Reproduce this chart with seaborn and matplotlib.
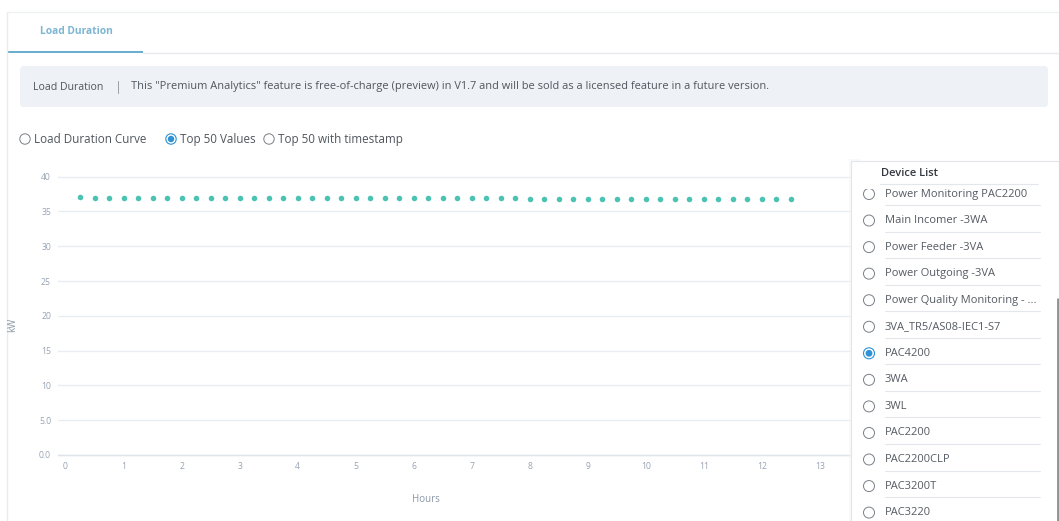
import matplotlib
matplotlib.use("Agg")
import matplotlib.pyplot as plt
import seaborn as sns
import pandas as pd
from matplotlib.patches import Rectangle, Circle, FancyBboxPatch

# Top 50 Werte (15-Minuten-Raster)
hours = [0.25, 0.5, 0.75, 1.0, 1.25, 1.5, 1.75, 2.0, 2.25, 2.5,
         2.75, 3.0, 3.25, 3.5, 3.75, 4.0, 4.25, 4.5, 4.75, 5.0,
         5.25, 5.5, 5.75, 6.0, 6.25, 6.5, 6.75, 7.0, 7.25, 7.5,
         7.75, 8.0, 8.25, 8.5, 8.75, 9.0, 9.25, 9.5, 9.75, 10.0,
         10.25, 10.5, 10.75, 11.0, 11.25, 11.5, 11.75, 12.0, 12.25, 12.5]
kw = [37.02, 37.01, 37.00, 37.00, 36.99, 36.99, 36.98, 36.98, 36.97, 36.97,
      36.96, 36.96, 36.95, 36.95, 36.94, 36.94, 36.93, 36.93, 36.92, 36.92,
      36.91, 36.91, 36.90, 36.90, 36.89, 36.89, 36.88, 36.88, 36.88, 36.87,
      36.87, 36.86, 36.86, 36.86, 36.85, 36.85, 36.84, 36.84, 36.84, 36.83,
      36.83, 36.82, 36.82, 36.82, 36.81, 36.81, 36.80, 36.80, 36.80, 36.79]

x_ticks = [0, 1, 2, 3, 4, 5, 6, 7, 8, 9, 10, 11, 12, 13]
y_ticks = [0, 5, 10, 15, 20, 25, 30, 35, 40]
y_tick_labels = ["0.0", "5.0", "10", "15", "20", "25", "30", "35", "40"]

modes = ["Load Duration Curve", "Top 50 Values", "Top 50 with timestamp"]
selected_mode = "Top 50 Values"
devices = ["Power Monitoring PAC2200", "Main Incomer -3WA", "Power Feeder -3VA",
           "Power Outgoing -3VA", "Power Quality Monitoring - ...",
           "3VA_TR5/AS08-IEC1-S7", "PAC4200", "3WA", "3WL", "PAC2200",
           "PAC2200CLP", "PAC3200T", "PAC3220"]
selected_device = "PAC4200"
banner_text = ('This "Premium Analytics" feature is free-of-charge (preview) in V1.7 '
               'and will be sold as a licensed feature in a future version.')

W, H = 1059, 521
BLUE = "#2f92d4"
sns.set_theme(style="white")
plt.rcParams['font.family'] = ['Open Sans', 'DejaVu Sans']

fig = plt.figure(figsize=(W / 100, H / 100), dpi=100)
fig.patch.set_facecolor("white")

# Diagramm
ax = fig.add_axes([58 / W, (H - 455) / H, (850 - 58) / W, (455 - 176.7) / H])
df = pd.DataFrame({"Hours": hours, "kW": kw})
sns.scatterplot(data=df, x="Hours", y="kW", ax=ax, color="#4cc3b2", s=16,
                linewidth=0, zorder=3)
ax.set_xlim(-0.13, 13.52)
ax.set_ylim(0, 40)
ax.set_xticks(x_ticks)
ax.set_yticks(y_ticks)
ax.set_yticklabels(y_tick_labels)
ax.grid(axis="y", color="#e9ecf1", linewidth=1)
ax.grid(axis="x", visible=False)
for side in ["left", "right", "top"]:
    ax.spines[side].set_visible(False)
ax.spines["bottom"].set_color("#dfe3ea")
ax.spines["bottom"].set_linewidth(1)
ax.tick_params(axis="both", labelsize=6.2, labelcolor="#97a3b3", length=3,
               width=0.8, color="#dfe3ea", pad=2)
ax.set_xlabel("")
ax.set_ylabel("")
for gl in ax.get_ygridlines():
    gl.set_clip_on(False)


def radio(x, y, r, on):
    if on:
        return [ui.add_patch(Circle((x, y), r, fc="white", ec=BLUE, lw=0.8)),
                ui.add_patch(Circle((x, y), r * 0.62, fc=BLUE, ec="none"))]
    return [ui.add_patch(Circle((x, y), r, fc="white", ec="#7a7f86", lw=0.7))]


# Oberfläche in Pixelkoordinaten
ui = fig.add_axes([0, 0, 1, 1], zorder=5)
ui.set_xlim(0, W)
ui.set_ylim(H, 0)
ui.axis("off")

ui.plot([7, 7], [12, H], color="#e8ebef", lw=1)
ui.plot([7, W], [12, 12], color="#eef0f3", lw=1)

ui.text(76, 31, "Load Duration", ha="center", va="center", fontsize=7.4,
        fontweight="bold", color="#7db6d3")
ui.add_patch(Rectangle((8, 50.5), 135, 2.5, color="#6aaed0", lw=0))
ui.plot([143, W], [52.5, 52.5], color="#e6e9ed", lw=1)

ui.add_patch(FancyBboxPatch((20, 66), 1028, 41, boxstyle="round,pad=0,rounding_size=4",
                            fc="#eef1f5", ec="none"))
ui.text(33, 87, "Load Duration", ha="left", va="center", fontsize=7.6, color="#50565e")
ui.plot([118, 118], [81, 93], color="#9aa0a8", lw=0.7)
ui.text(131, 87, banner_text, ha="left", va="center", fontsize=7.95, color="#50565e")

# Auswahl oben
mode_x = [25, 171, 269]
for mx, m in zip(mode_x, modes):
    radio(mx, 139, 5.2, m == selected_mode)
    ui.text(mx + 8.5, 139.5, m, ha="left", va="center", fontsize=8.4, color="#50565e")

ui.text(13, 325, "kW", ha="center", va="center", rotation=90, fontsize=7, color="#8b97a6")
ui.text(426, 499, "Hours", ha="center", va="center", fontsize=7, color="#8b97a6")

# Geräteliste
ui.add_patch(Rectangle((849, 159), 12, H, fc="#f4f5f7", ec="none", alpha=0.6))
ui.add_patch(Rectangle((851, 161), W - 851, H, fc="white", ec="#e2e5e9", lw=0.8))
ui.text(881, 174, "Device List", ha="left", va="center", fontsize=8,
        fontweight="semibold", color="#333840")
ui.plot([880, 1038], [183.5, 183.5], color="#e3e6ea", lw=0.8)
clip = Rectangle((851, 189), W - 851, H, transform=ui.transData, fc="none", ec="none")
ui.add_patch(clip)
for i, d in enumerate(devices):
    yc = 194 + i * 26.55
    circles = radio(869, yc, 5.5, d == selected_device)
    t = ui.text(885, yc, d, ha="left", va="center", fontsize=8, color="#555b63")
    ln, = ui.plot([885, 1040], [yc + 11, yc + 11], color="#e3e6ea", lw=0.8)
    for art in circles + [t, ln]:
        art.set_clip_path(clip)

ui.plot([1057.5, 1057.5], [298, H], color="#8d8f93", lw=2, solid_capstyle="butt")

fig.savefig("out.png", dpi=100, facecolor="white")
plt.close(fig)
